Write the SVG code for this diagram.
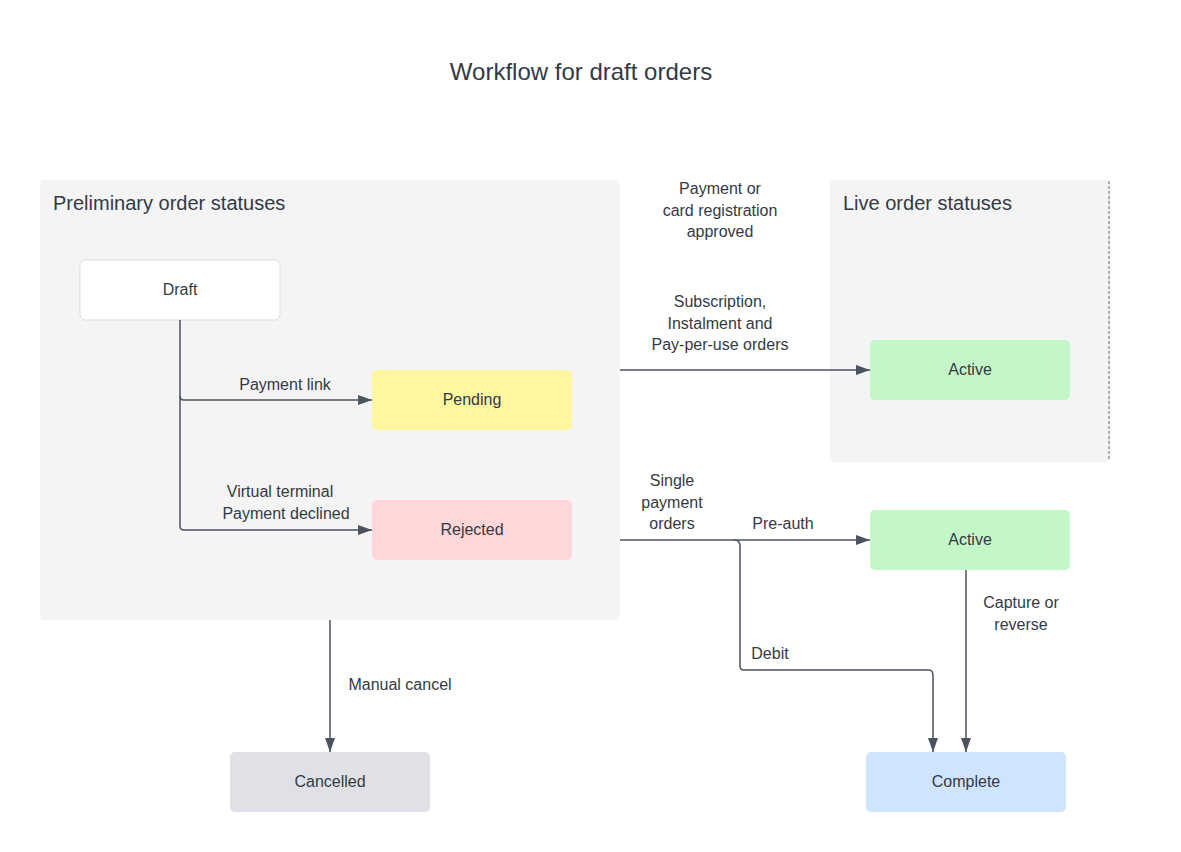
<svg xmlns="http://www.w3.org/2000/svg" width="1181" height="852" viewBox="0 0 1181 852">
<style>
text{font-family:"Liberation Sans",Arial,sans-serif;fill:#333a45;font-size:16px}
.c{text-anchor:middle}
.t{font-size:20px}
.n{font-size:16px;text-anchor:middle}
.l{fill:none;stroke:#4b5260;stroke-width:1.5}
</style>
<defs><marker id="a" markerWidth="14" markerHeight="10" refX="14" refY="5" orient="auto" markerUnits="userSpaceOnUse"><path d="M0,0L14,5L0,10Z" fill="#4b5260"/></marker></defs>
<rect width="1181" height="852" fill="#fff"/>
<text x="581" y="80" class="c" style="font-size:24px">Workflow for draft orders</text>
<g id="prelim"><rect x="40" y="180" width="580" height="440" rx="5" fill="#f4f4f4"/><text x="53" y="210" class="t">Preliminary order statuses</text></g>
<g id="live"><rect x="830" y="180" width="280" height="282" rx="5" fill="#f4f4f4"/><line x1="1109" y1="181" x2="1109" y2="461" stroke="#666" stroke-dasharray="3,2"/><text x="843" y="210" class="t">Live order statuses</text></g>
<g id="draft"><rect x="80" y="260" width="200" height="60" rx="5" fill="#fff" stroke="#ddd"/><text x="180" y="295" class="n">Draft</text></g>
<g id="pending"><rect x="372" y="370" width="200" height="60" rx="5" fill="#fff6a0"/><text x="472" y="405" class="n">Pending</text></g>
<g id="rejected"><rect x="372" y="500" width="200" height="60" rx="5" fill="#ffd7d9"/><text x="472" y="535" class="n">Rejected</text></g>
<g id="active1"><rect x="870" y="340" width="200" height="60" rx="5" fill="#c3f7c8"/><text x="970" y="375" class="n">Active</text></g>
<g id="active2"><rect x="870" y="510" width="200" height="60" rx="5" fill="#c3f7c8"/><text x="970" y="545" class="n">Active</text></g>
<g id="cancelled"><rect x="230" y="752" width="200" height="60" rx="5" fill="#dfe1e6"/><text x="330" y="787" class="n">Cancelled</text></g>
<g id="complete"><rect x="866" y="752" width="200" height="60" rx="5" fill="#cfe4ff"/><text x="966" y="787" class="n">Complete</text></g>
<g id="connectors">
<path class="l" d="M180,320V396Q180,400 184,400H372" marker-end="url(#a)"/>
<path class="l" d="M180,396V526Q180,530 184,530H372" marker-end="url(#a)"/>
<path class="l" d="M620,370H870" marker-end="url(#a)"/>
<path class="l" d="M620,540H870" marker-end="url(#a)"/>
<path class="l" d="M734,540Q740,540 740,546V666Q740,670 744,670H929Q933,670 933,676V752" marker-end="url(#a)"/>
<path class="l" d="M966,570V752" marker-end="url(#a)"/>
<path class="l" d="M330,620V752" marker-end="url(#a)"/>
</g>
<g id="labels">
<text x="285" y="390" class="c">Payment link</text>
<text x="280" y="497" class="c">Virtual terminal</text>
<text x="286" y="519" class="c">Payment declined</text>
<text x="720" y="194" class="c">Payment or</text>
<text x="720" y="216" class="c">card registration</text>
<text x="720" y="237" class="c">approved</text>
<text x="720" y="307" class="c">Subscription,</text>
<text x="720" y="329" class="c">Instalment and</text>
<text x="720" y="350" class="c">Pay-per-use orders</text>
<text x="672" y="486" class="c">Single</text>
<text x="672" y="508" class="c">payment</text>
<text x="672" y="529" class="c">orders</text>
<text x="783" y="529" class="c">Pre-auth</text>
<text x="770" y="659" class="c">Debit</text>
<text x="1021" y="608" class="c">Capture or</text>
<text x="1021" y="630" class="c">reverse</text>
<text x="400" y="690" class="c">Manual cancel</text>
</g>
</svg>
